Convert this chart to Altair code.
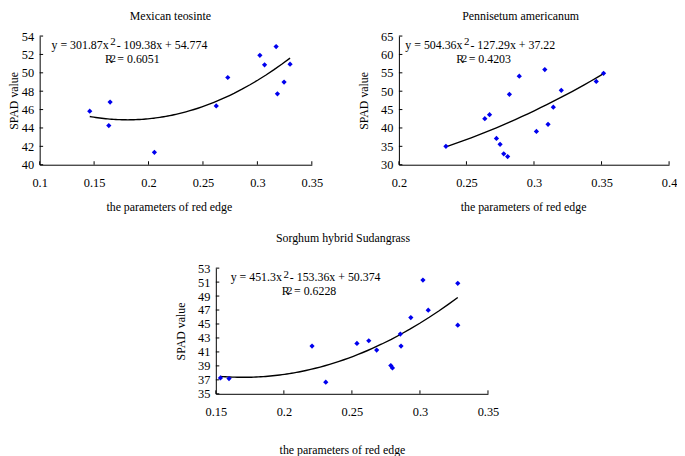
import altair as alt
import pandas as pd

FONT = "Liberation Serif"

# ---------------- data ----------------
mex_x = [0.146, 0.1647, 0.1635, 0.2054, 0.2622, 0.2728, 0.3023, 0.3066, 0.3172, 0.3184, 0.3245, 0.330]
mex_y = [45.83, 46.82, 44.26, 41.35, 46.4, 49.49, 51.9, 50.87, 52.86, 47.71, 48.99, 50.94]

pen_x = [0.2348, 0.2636, 0.2671, 0.2722, 0.2749, 0.2776, 0.2805, 0.2818, 0.2891, 0.3018,
         0.3080, 0.3104, 0.3143, 0.3202, 0.3461, 0.3515]
pen_y = [35.0, 42.53, 43.6, 37.16, 35.55, 32.95, 32.23, 49.15, 54.08, 39.04,
         55.87, 41.0, 45.66, 50.23, 52.65, 54.88]

sor_x = [0.1534, 0.1597, 0.2207, 0.2308, 0.2537, 0.2624, 0.2682, 0.2786, 0.2798, 0.2856,
         0.2861, 0.2933, 0.3022, 0.3061, 0.3278, 0.3278]
sor_y = [37.28, 37.19, 41.84, 36.67, 42.22, 42.6, 41.27, 39.04, 38.71, 43.55,
         41.84, 45.92, 51.29, 46.97, 50.82, 44.83]

titles = ["Mexican teosinte", "Pennisetum americanum", "Sorghum hybrid Sudangrass"]
x_title = "the parameters of red edge"
y_title = "SPAD value"

mex_xticks = [0.1, 0.15, 0.2, 0.25, 0.3, 0.35]
mex_yticks = [40, 42, 44, 46, 48, 50, 52, 54]
pen_xticks = [0.2, 0.25, 0.3, 0.35, 0.4]
pen_yticks = [30, 35, 40, 45, 50, 55, 60, 65]
sor_xticks = [0.15, 0.2, 0.25, 0.3, 0.35]
sor_yticks = [35, 37, 39, 41, 43, 45, 47, 49, 51, 53]

# equation parts: (main, superscript, rest), (R, superscript, value)
mex_eq = ["y = 301.87x", "2", "- 109.38x + 54.774", "R", "2", "= 0.6051"]
pen_eq = ["y = 504.36x", "2", "- 127.29x + 37.22", "R", "2", "= 0.4203"]
sor_eq = ["y = 451.3x", "2", "- 153.36x + 50.374", "R", "2", "= 0.6228"]

# ---------------- helpers ----------------
TW = {c: 0.5 for c in "0123456789"}
TW.update({".": 0.25, " ": 0.25, "=": 0.564, "y": 0.5, "x": 0.5, "R": 0.667, "-": 0.333, "+": 0.564})


def text_w(s, fs):
    return sum(TW.get(c, 0.5) for c in s) * fs


EQ_FS = 12
SUP_FS = 11


def text_layer(s, px, py, fs):
    return alt.Chart(pd.DataFrame({"t": [s]})).mark_text(
        align="left", baseline="alphabetic", font=FONT, fontSize=fs, color="black"
    ).encode(x=alt.value(px), y=alt.value(py), text="t:N")


def panel(xs, ys, xdom, xticks, ydom, yticks, w, h, title, title_dx, title_off,
          eq, eq_x1, eq_x2, ytitle_x, xtitle_x, xtitle_y):
    df = pd.DataFrame({"x": xs, "y": ys})
    xsc = alt.Scale(domain=xdom, nice=False, zero=False)
    ysc = alt.Scale(domain=ydom, nice=False, zero=False)
    xax = alt.Axis(values=xticks, format="~g", grid=False, ticks=False, tickSize=0,
                   domainColor="black", domainWidth=1,
                   labelFont=FONT, labelFontSize=12.5, labelColor="black", labelPadding=12,
                   labelFlush=False, labelOverlap=False,
                   title=x_title, titleFont=FONT, titleFontSize=12, titleFontWeight="normal",
                   titleColor="black", titleX=xtitle_x, titleY=xtitle_y,
                   titleAlign="center", titleBaseline="alphabetic")
    yax = alt.Axis(values=yticks, format="~g", grid=False, ticks=False, tickSize=0,
                   domainColor="black", domainWidth=1,
                   labelFont=FONT, labelFontSize=12.5, labelColor="black", labelPadding=6,
                   labelFlush=False, labelOverlap=False,
                   title=y_title, titleFont=FONT, titleFontSize=12, titleFontWeight="normal",
                   titleColor="black", titleX=ytitle_x, titleY=h / 2, titleAngle=270,
                   titleAlign="center", titleBaseline="alphabetic")
    X = alt.X("x:Q", scale=xsc, axis=xax)
    Y = alt.Y("y:Q", scale=ysc, axis=yax)

    ytk = alt.Chart(pd.DataFrame({"y": yticks})).mark_rule(color="black", strokeWidth=1).encode(
        y=Y, x=alt.value(0), x2=alt.value(3.5))
    xtk = alt.Chart(pd.DataFrame({"x": xticks})).mark_rule(color="black", strokeWidth=1).encode(
        x=X, y=alt.value(h), y2=alt.value(h - 3.5))
    fit = alt.Chart(df).transform_regression("x", "y", method="poly", order=2).mark_line(
        color="black", strokeWidth=1.4).encode(x=X, y=Y)
    pts = alt.Chart(df).mark_point(shape="diamond", filled=True, color="#0000ee",
                                   size=28, opacity=1).encode(x=X, y=Y)

    b1 = 13
    b2 = 27.5
    w1 = text_w(eq[0], EQ_FS)
    t1 = text_layer(eq[0], eq_x1, b1, EQ_FS)
    t2 = text_layer(eq[1], eq_x1 + w1 + 1.5, b1 - 3.5, SUP_FS)
    t3 = text_layer(eq[2], eq_x1 + w1 + 1.5 + 6.5, b1, EQ_FS)
    t4 = text_layer(eq[3], eq_x2, b2, EQ_FS)
    t5 = text_layer(eq[4], eq_x2 + 5.5, b2 - 1.5, SUP_FS)
    t6 = text_layer(eq[5], eq_x2 + 12.5, b2, EQ_FS)

    return alt.layer(ytk, xtk, fit, pts, t1, t2, t3, t4, t5, t6).properties(
        width=w, height=h,
        title=alt.Title(title, font=FONT, fontSize=12, fontWeight="normal", color="black",
                        anchor="middle", frame="group", dx=title_dx, offset=title_off,
                        baseline="alphabetic"))


p1 = panel(mex_x, mex_y, [0.1, 0.35], mex_xticks, [40, 54], mex_yticks, 275, 130,
           titles[0], -5.5, -2, mex_eq, 12, 66, -22, 130.5, 46)
p2 = panel(pen_x, pen_y, [0.2, 0.4], pen_xticks, [30, 65], pen_yticks, 273, 130,
           titles[1], -13.5, -2, pen_eq, 6.5, 58, -32, 125.5, 46)
p3 = panel(sor_x, sor_y, [0.15, 0.35], sor_xticks, [35, 53], sor_yticks, 275, 127,
           titles[2], -9, 8.5, sor_eq, 15, 66.5, -32, 127.5, 60)

spacer = alt.Chart(pd.DataFrame({"a": [0]})).mark_point(opacity=0).encode(
    x=alt.value(0), y=alt.value(0)).properties(width=178, height=20)

row1 = alt.hconcat(p1, p2, spacing=88, bounds="flush")
row2 = alt.hconcat(spacer, p3, spacing=0, bounds="flush")
chart = alt.vconcat(row1, row2, spacing=19.5).properties(
    padding=0, background="white"
).configure_view(stroke=None)

chart.save("out.html", embed_options={"renderer": "svg", "actions": False})
